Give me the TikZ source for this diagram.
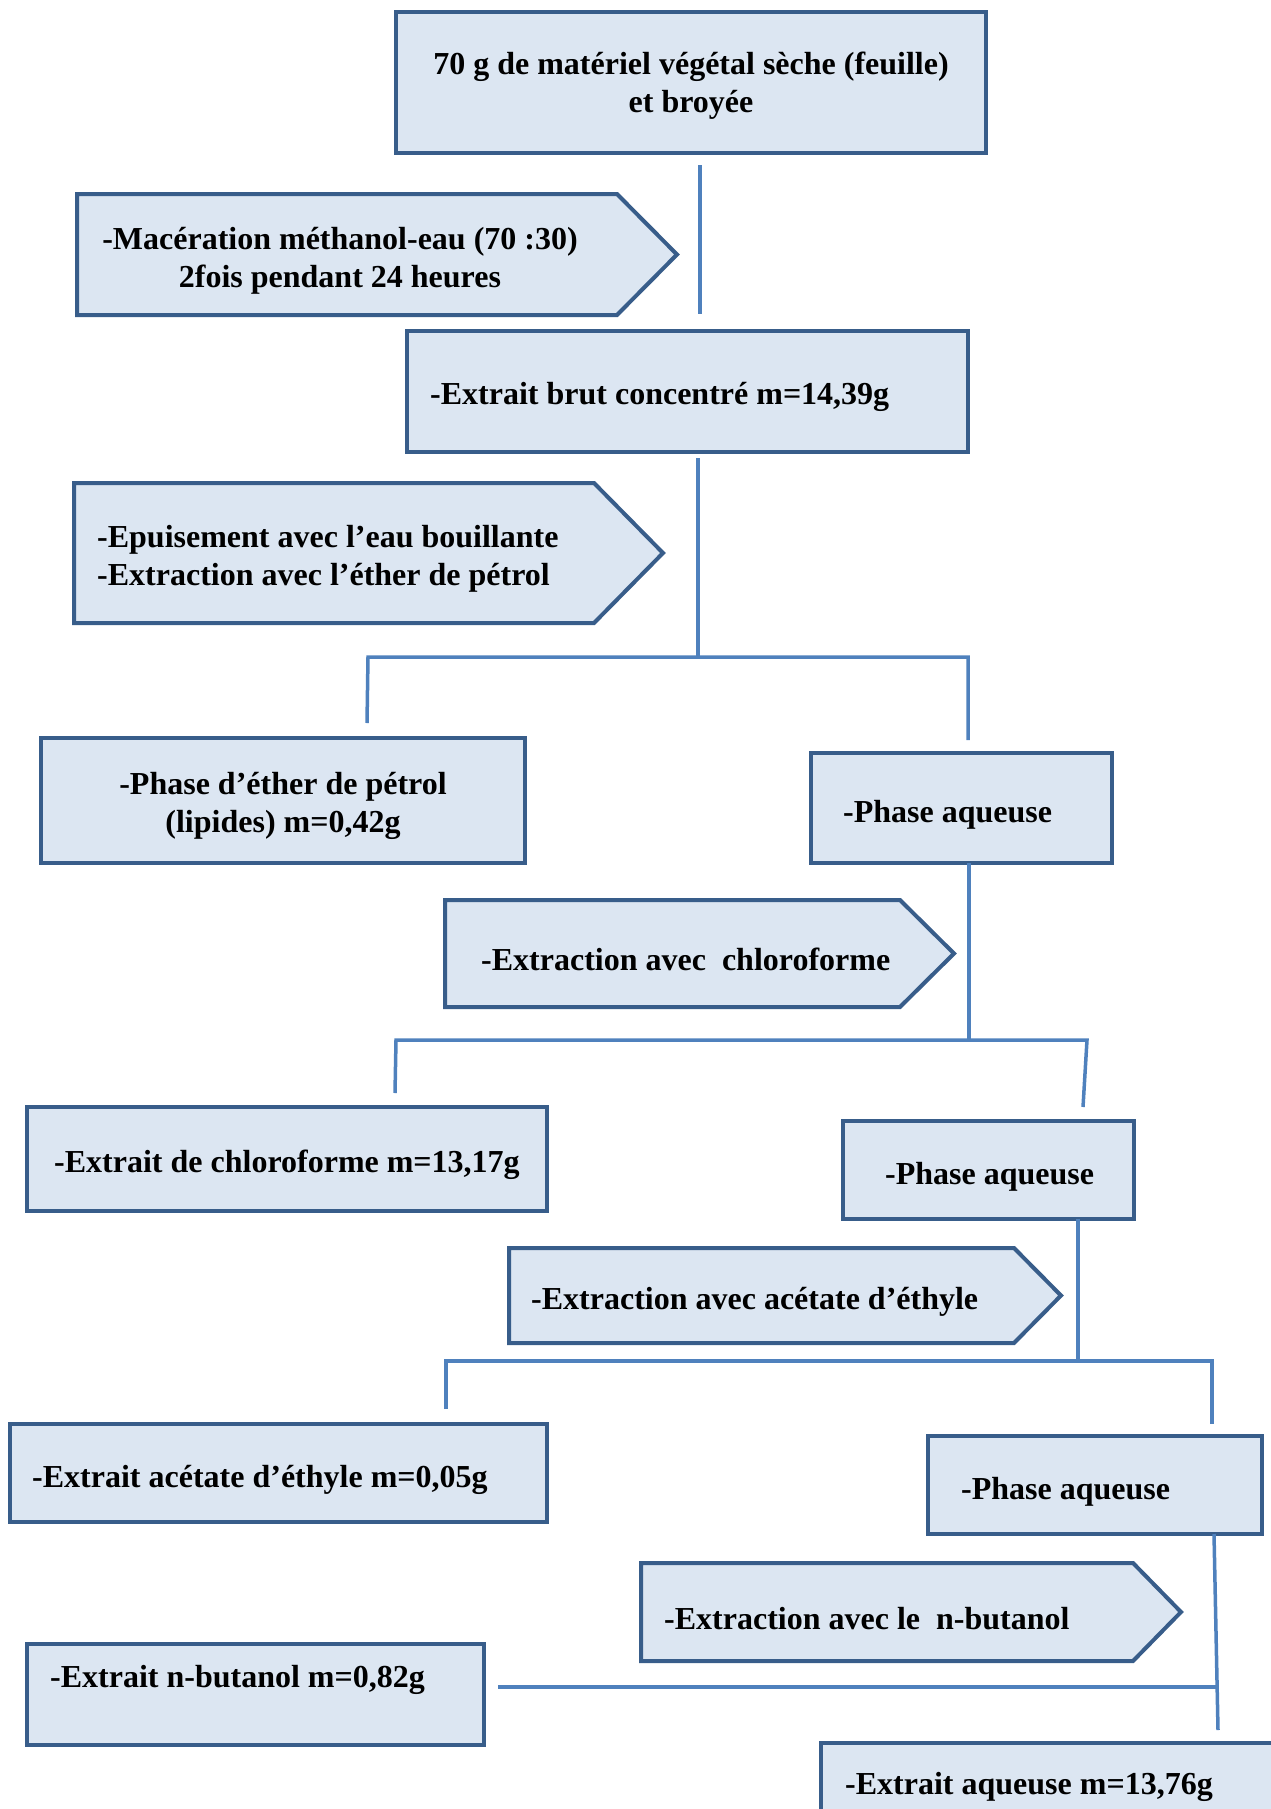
\documentclass[tikz,border=0pt]{standalone}
\usepackage{fontspec}
\setmainfont{Liberation Serif}
\definecolor{boxfill}{HTML}{DCE6F2}
\definecolor{boxline}{HTML}{385D8A}
\definecolor{conn}{HTML}{4F81BD}
\begin{document}
\begin{tikzpicture}[x=1pt,y=-1pt,
  box/.style={draw=boxline,fill=boxfill,line width=4pt,inner sep=0pt},
  arrowbox/.style={draw=boxline,fill=boxfill,line width=4pt,line join=miter},
  txt/.style={font=\fontsize{32}{38}\selectfont\bfseries,inner sep=0pt,text=black},
  link/.style={draw=conn,line width=3.5pt}]
\useasboundingbox (0,0) rectangle (1271,1809);
\begin{scope}
\clip (0,0) rectangle (1271,1809);
% boxes
\node[box,minimum width=590,minimum height=141] (b1) at (691,82.5) {};
\node[box,minimum width=561,minimum height=121] (b2) at (687.5,391.5) {};
\node[box,minimum width=484,minimum height=125] (b3) at (283,800.5) {};
\node[box,minimum width=301,minimum height=110] (b4) at (961.5,808) {};
\node[box,minimum width=520,minimum height=104] (b5) at (287,1159) {};
\node[box,minimum width=291,minimum height=98] (b6) at (988.5,1170) {};
\node[box,minimum width=537,minimum height=98] (b7) at (278.5,1473) {};
\node[box,minimum width=334,minimum height=98] (b8) at (1095,1485) {};
\node[box,minimum width=457,minimum height=101] (b9) at (255.5,1694.5) {};
\node[box,minimum width=480,minimum height=100] (b10) at (1061,1793) {};
% arrow shapes
\draw[arrowbox] (77,194) -- (617,194) -- (677,254.5) -- (617,315) -- (77,315) -- cycle;
\draw[arrowbox] (74,483) -- (594,483) -- (663,553) -- (594,623) -- (74,623) -- cycle;
\draw[arrowbox] (445,900) -- (900,900) -- (954,953.5) -- (900,1007) -- (445,1007) -- cycle;
\draw[arrowbox] (509,1248) -- (1014,1248) -- (1061,1295.5) -- (1014,1343) -- (509,1343) -- cycle;
\draw[arrowbox] (641,1563) -- (1133,1563) -- (1181,1612) -- (1133,1661) -- (641,1661) -- cycle;
% texts
\node[txt,align=center] (t1) at (691,86) {70 g de matériel végétal sèche (feuille)\\et broyée};
\node[txt,align=center] (ta1) at (340,261) {-Macération méthanol-eau (70 :30)\\2fois pendant 24 heures};
\node[txt,anchor=west] (t2) at (430,397) {-Extrait brut concentré m=14,39g};
\node[txt,align=left,anchor=west] (ta2) at (97,559) {-Epuisement avec l’eau bouillante\\-Extraction avec l’éther de pétrol};
\node[txt,align=center] (t3) at (283,806) {-Phase d’éther de pétrol\\(lipides) m=0,42g};
\node[txt,anchor=west] (t4) at (843,815) {-Phase aqueuse};
\node[txt,anchor=west] (ta3) at (481,959) {-Extraction avec\ \ chloroforme};
\node[txt,anchor=west] (t5) at (54,1165) {-Extrait de chloroforme m=13,17g};
\node[txt,anchor=west] (t6) at (885,1177) {-Phase aqueuse};
\node[txt,anchor=west] (ta4) at (531,1302) {-Extraction avec acétate d’éthyle};
\node[txt,anchor=west] (t7) at (32,1480) {-Extrait acétate d’éthyle m=0,05g};
\node[txt,anchor=west] (t8) at (961,1492) {-Phase aqueuse};
\node[txt,anchor=west] (ta5) at (664,1619) {-Extraction avec le\ \ n-butanol};
\node[txt,anchor=west] (t9) at (50,1680) {-Extrait n-butanol m=0,82g};
\node[txt,anchor=west] (t10) at (845,1787) {-Extrait aqueuse m=13,76g};
% connector coordinates
\coordinate (c1a) at (700,165);
\coordinate (c1b) at (700,314);
\coordinate (c2a) at (698,458);
\coordinate (j1) at (698,657);
\coordinate (l1a) at (368,657);
\coordinate (l1b) at (367,723);
\coordinate (r1a) at (968,657);
\coordinate (r1b) at (968,740);
\coordinate (c3a) at (969,863);
\coordinate (j2) at (969,1040);
\coordinate (l2a) at (396,1040);
\coordinate (l2b) at (395,1093);
\coordinate (r2a) at (1087,1040);
\coordinate (r2b) at (1083,1107);
\coordinate (c4a) at (1078,1219);
\coordinate (j3) at (1078,1361);
\coordinate (l3a) at (446,1361);
\coordinate (l3b) at (446,1409);
\coordinate (r3a) at (1212,1361);
\coordinate (r3b) at (1212,1424);
\coordinate (c5a) at (1214,1534);
\coordinate (c5b) at (1218,1730);
\coordinate (j4) at (1217,1687);
\coordinate (h4) at (498,1687);
% connectors
\draw[link] (c1a) -- (c1b);
\draw[link] (c2a) -- (j1);
\draw[link] (l1b) -- (l1a) -- (r1a) -- (r1b);
\draw[link] (c3a) -- (j2);
\draw[link] (l2b) -- (l2a) -- (r2a) -- (r2b);
\draw[link] (c4a) -- (j3);
\draw[link] (l3b) -- (l3a) -- (r3a) -- (r3b);
\draw[link] (c5a) -- (c5b);
\draw[link] (h4) -- (j4);
\end{scope}
\end{tikzpicture}
\end{document}
